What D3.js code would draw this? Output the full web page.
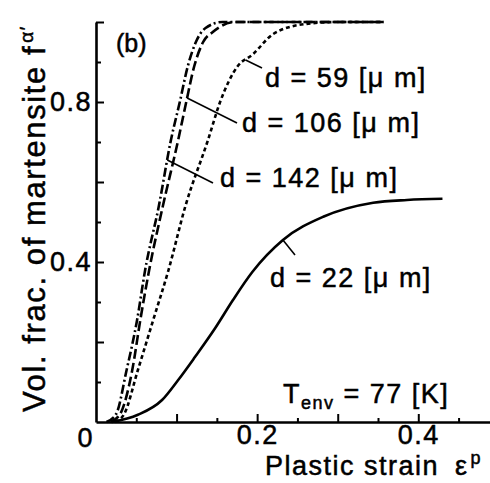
<!DOCTYPE html>
<html>
<head>
<meta charset="utf-8">
<script src="https://cdn.jsdelivr.net/npm/d3@7"></script>
<style>
  body { margin: 0; background: #fff; }
  svg text { font-family: "Liberation Sans", Arial, sans-serif; fill: #000; stroke: #000; stroke-width: 0.5px; }
</style>
</head>
<body>
<div id="chart"></div>
<script>
// plastic strain / volume fraction of martensite, one pair per grain size
var strain142 = [0.013, 0.025, 0.038, 0.051, 0.061, 0.078, 0.093, 0.104, 0.114, 0.124, 0.136, 0.157, 0.357];
var frac142   = [0,     0.02,  0.13,  0.255, 0.38,  0.54,  0.705, 0.8,   0.89,  0.95,  0.985, 1.0,   1.0];

var strain106 = [0.018, 0.03, 0.045, 0.055, 0.066, 0.083, 0.102, 0.112, 0.122, 0.133, 0.145, 0.173, 0.357];
var frac106   = [0,     0.02, 0.13,  0.255, 0.38,  0.54,  0.705, 0.8,   0.89,  0.95,  0.975, 1.0,   1.0];

var strain59 = [0.024, 0.035, 0.052, 0.071, 0.09, 0.111, 0.139, 0.154, 0.176, 0.194, 0.22, 0.26,  0.3, 0.357];
var frac59   = [0,     0.02,  0.13,  0.255, 0.38, 0.54,  0.705, 0.8,   0.89,  0.918, 0.97, 0.995, 1.0, 1.0];

var strain22 = [0.02, 0.052, 0.082, 0.102, 0.123, 0.148, 0.17, 0.194, 0.232, 0.282, 0.344, 0.386, 0.43];
var frac22   = [0,    0.018, 0.055, 0.105, 0.163, 0.235, 0.305, 0.375, 0.455, 0.513, 0.548, 0.555, 0.558];

var grainLabels = ["d = 142 [\u03bc m]", "d = 106 [\u03bc m]", "d = 59 [\u03bc m]", "d = 22 [\u03bc m]"];

var xMajorTicks = [0.1, 0.2, 0.3, 0.4];
var xMinorTicks = [0.05, 0.15, 0.25, 0.35, 0.45];
var xTickLabels = [0.2, 0.4];
var yMajorTicks = [0.2, 0.4, 0.6, 0.8, 1.0];
var yMinorTicks = [0.1, 0.3, 0.5, 0.7, 0.9];
var yTickLabels = [0.4, 0.8];

var width = 490, height = 483;

var x = d3.scaleLinear().domain([0, 0.489]).range([96, 490]);
var y = d3.scaleLinear().domain([0, 1]).range([422, 22]);

var svg = d3.select('#chart').append('svg')
  .attr('width', width)
  .attr('height', height);

var series = [
  { xs: strain142, ys: frac142, dash: '9,3,2,3' },
  { xs: strain106, ys: frac106, dash: '10,4' },
  { xs: strain59,  ys: frac59,  dash: '4,3' },
  { xs: strain22,  ys: frac22,  dash: null }
];

// where each label's leader line touches its curve (fraction), and where the text sits
var labelLayout = [
  { at: 0.655, end: [213, 183], text: [220, 187] },
  { at: 0.81,  end: [237, 123], text: [242, 132] },
  { at: 0.905, end: [262, 68],  text: [265, 87] },
  { at: 0.455, end: [295, 255], text: [270, 287] }
];

var fmt = d3.format('.1f');

// x axis, ticks pointing inward
svg.append('g')
  .attr('transform', 'translate(0,' + y(0) + ')')
  .call(d3.axisBottom(x).tickValues(xMinorTicks).tickSize(-4).tickSizeOuter(0).tickFormat(''))
  .call(function(g) { g.select('.domain').remove(); });

svg.append('g')
  .attr('transform', 'translate(0,' + y(0) + ')')
  .call(d3.axisBottom(x).tickValues(xMajorTicks).tickSize(-8).tickSizeOuter(0).tickPadding(3)
    .tickFormat(function(d) { return xTickLabels.indexOf(d) >= 0 ? fmt(d) : ''; }));

// y axis
svg.append('g')
  .attr('transform', 'translate(' + x(0) + ',0)')
  .call(d3.axisLeft(y).tickValues(yMinorTicks).tickSize(-5).tickSizeOuter(0).tickFormat(''))
  .call(function(g) { g.select('.domain').remove(); });

svg.append('g')
  .attr('transform', 'translate(' + x(0) + ',0)')
  .call(d3.axisLeft(y).tickValues(yMajorTicks).tickSize(-8).tickSizeOuter(0).tickPadding(4)
    .tickFormat(function(d) { return yTickLabels.indexOf(d) >= 0 ? fmt(d) : ''; }));

svg.selectAll('.domain').style('stroke', '#000').style('stroke-width', '2.6px');
svg.selectAll('.tick line').style('stroke', '#000').style('stroke-width', '2px');
svg.selectAll('.tick text')
  .style('font-size', '27px')
  .style('letter-spacing', '1.5px');

svg.append('text')
  .attr('x', x(0) - 11).attr('y', y(0) + 25)
  .attr('text-anchor', 'middle')
  .style('font-size', '27px')
  .text('0');

// curves
var line = d3.line()
  .x(function(d) { return x(d[0]); })
  .y(function(d) { return y(d[1]); })
  .curve(d3.curveMonotoneX);

series.forEach(function(s, i) {
  var pts = s.xs.map(function(v, j) { return [v, s.ys[j]]; });
  svg.append('path')
    .attr('d', line(pts))
    .attr('fill', 'none')
    .attr('stroke', '#000')
    .attr('stroke-width', 2.6)
    .attr('stroke-dasharray', s.dash);

  var lay = labelLayout[i];
  var strainAt = d3.scaleLinear().domain(s.ys.slice(0, -1)).range(s.xs.slice(0, -1));
  svg.append('line')
    .attr('x1', x(strainAt(lay.at))).attr('y1', y(lay.at))
    .attr('x2', lay.end[0]).attr('y2', lay.end[1])
    .attr('stroke', '#000').attr('stroke-width', 1.6);

  svg.append('text')
    .attr('x', lay.text[0]).attr('y', lay.text[1])
    .style('font-size', '27px')
    .style('letter-spacing', '1.5px')
    .text(grainLabels[i]);
});

// panel tag
svg.append('text')
  .attr('x', 116).attr('y', 52)
  .style('font-size', '25px')
  .text('(b)');

// environment temperature
var tEnv = svg.append('text')
  .attr('x', 283).attr('y', 403)
  .style('font-size', '27px')
  .style('letter-spacing', '1.5px');
tEnv.append('tspan').text('T');
tEnv.append('tspan').attr('dy', 6).style('font-size', '18px').text('env');
tEnv.append('tspan').attr('dy', -6).text(' = 77 [K]');

// axis titles
var xTitle = svg.append('text')
  .attr('x', 265).attr('y', 475)
  .style('font-size', '27px')
  .style('letter-spacing', '1.5px');
xTitle.append('tspan').text('Plastic strain');
xTitle.append('tspan').attr('dx', 16).text('\u03b5');
xTitle.append('tspan').attr('dx', 2).attr('dy', -11).style('font-size', '18px').text('p');

var yTitle = svg.append('text')
  .attr('transform', 'translate(45,' + 412 + ') rotate(-90)')
  .style('font-size', '31px')
  .style('letter-spacing', '1.6px');
yTitle.append('tspan').text('Vol. frac. of martensite f');
yTitle.append('tspan').attr('dx', 2).attr('dy', -12).style('font-size', '19px').text('\u03b1\u2032');
</script>
</body>
</html>
